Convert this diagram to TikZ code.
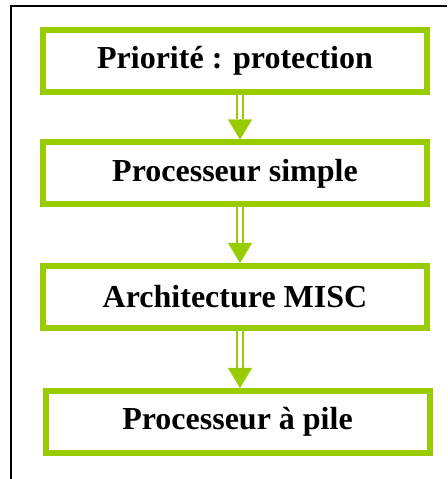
\documentclass[tikz,border=0pt]{standalone}
\usepackage{fontspec}
\setmainfont{Liberation Serif}
\usepackage{tikz}
\usetikzlibrary{arrows.meta}
\definecolor{lime}{HTML}{99CC00}

\begin{document}
\begin{tikzpicture}[x=1pt,y=1pt,
  etape/.style={draw=lime,line width=6pt,minimum width=384pt,minimum height=62pt,
    font=\fontsize{32}{38}\selectfont\bfseries},
  tige/.style={draw=lime,line width=2.5pt,double=white,double distance=3.3pt},
  pointe/.style={draw=lime,line width=0.1pt,-{Triangle[width=24pt,length=20pt,fill=lime]}}]
\useasboundingbox (0,0) rectangle (447,479);
\draw[line width=2pt] (11,0) -- (11,473) -- (447,473);

\node[etape] (prio)   at (235,  418) {Priorité : protection};
\node[etape] (simple) at (235,305.5) {Processeur simple};
\node[etape] (misc)   at (235,  182) {Architecture MISC};
\node[etape] (pile)   at (237.5, 57) {Processeur à pile};

\path[tige]   ([xshift=5pt]prio.south) -- ([xshift=5pt,yshift=20pt]simple.north);
\path[pointe] ([xshift=5pt,yshift=20pt]simple.north) -- ([xshift=5pt]simple.north);
\path[tige]   ([xshift=5pt]simple.south) -- ([xshift=5pt,yshift=20pt]misc.north);
\path[pointe] ([xshift=5pt,yshift=20pt]misc.north) -- ([xshift=5pt]misc.north);
\path[tige]   ([xshift=5pt]misc.south) -- ([xshift=2.5pt,yshift=20pt]pile.north);
\path[pointe] ([xshift=2.5pt,yshift=20pt]pile.north) -- ([xshift=2.5pt]pile.north);
\end{tikzpicture}
\end{document}
